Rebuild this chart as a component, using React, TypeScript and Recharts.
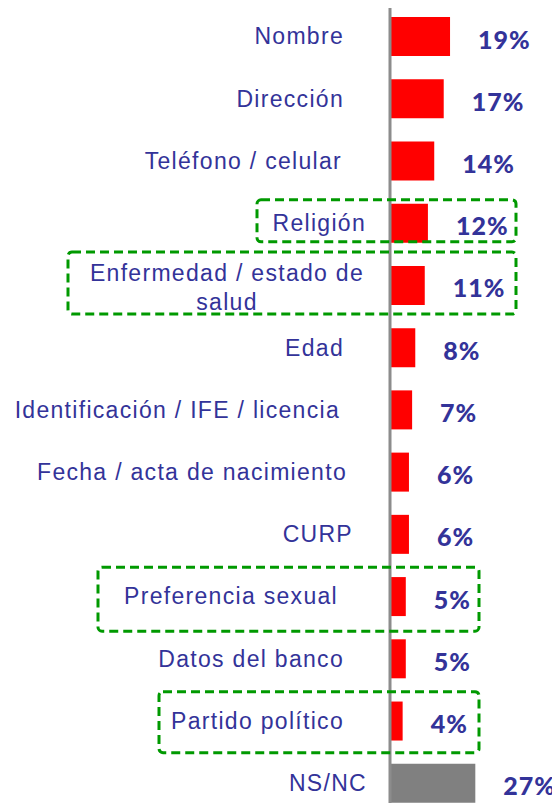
import React from 'react';
import { BarChart, Bar, XAxis, YAxis, Cell, LabelList } from 'recharts';

const categories = [
  'Nombre',
  'Dirección',
  'Teléfono / celular',
  'Religión',
  'Enfermedad / estado de salud',
  'Edad',
  'Identificación / IFE / licencia',
  'Fecha / acta de nacimiento',
  'CURP',
  'Preferencia sexual',
  'Datos del banco',
  'Partido político',
  'NS/NC',
];
const values = [19, 17, 14, 12, 11, 8, 7, 6, 6, 5, 5, 4, 27];
const highlighted = ['Religión', 'Enfermedad / estado de salud', 'Preferencia sexual', 'Partido político'];
const wrappedLabels: Record<string, string[]> = {
  'Enfermedad / estado de salud': ['Enfermedad / estado de', 'salud'],
};

const data = categories.map((name, i) => ({ name, value: values[i] }));

const BLUE = '#333399';
const LABEL_RIGHT = 344;

// small nudges so labels sit where the original text boxes were
const labelShift: Record<string, number> = {
  'Religión': 22,
  'NS/NC': 23,
  'CURP': 9,
  'Fecha / acta de nacimiento': 3,
  'Preferencia sexual': -6,
  'Identificación / IFE / licencia': -4,
  'Teléfono / celular': -2,
};

// dashed highlight boxes, relative to the row centre
const boxStyle: Record<string, { x1: number; x2: number; top: number; bottom: number }> = {
  'Religión': { x1: 257, x2: 516, top: -23, bottom: 19 },
  'Enfermedad / estado de salud': { x1: 68, x2: 516, top: -33, bottom: 29 },
  'Preferencia sexual': { x1: 98, x2: 479, top: -29, bottom: 35 },
  'Partido político': { x1: 159, x2: 479, top: -29, bottom: 32 },
};

const CategoryTick = (props: any) => {
  const { y, payload } = props;
  const name: string = payload.value;
  const lines = wrappedLabels[name];
  const box = highlighted.includes(name) ? boxStyle[name] : null;
  const textStyle = {
    fontFamily: '"Liberation Sans", Arial, sans-serif',
    fontSize: 23,
    letterSpacing: 1.3,
    fill: BLUE,
  };
  return (
    <g>
      {lines ? (
        <text x={227} y={y} textAnchor="middle" style={textStyle}>
          <tspan x={227} dy={-4}>{lines[0]}</tspan>
          <tspan x={227} dy={29}>{lines[1]}</tspan>
        </text>
      ) : (
        <text x={LABEL_RIGHT + (labelShift[name] ?? 0)} y={y} dy="0.36em" textAnchor="end" style={textStyle}>
          {name}
        </text>
      )}
      {box && (
        <rect
          x={box.x1}
          y={y + box.top}
          width={box.x2 - box.x1}
          height={box.bottom - box.top}
          rx={4}
          fill="none"
          stroke="#009900"
          strokeWidth={3}
          strokeDasharray="9 5"
        />
      )}
    </g>
  );
};

const ValueLabel = (props: any) => {
  const { x, y, width, height, value } = props;
  return (
    <text
      x={x + width + 28}
      y={y + height / 2}
      dy="0.36em"
      transform="translate(0,3)"
      textAnchor="start"
      style={{ fontFamily: 'Lato, "Open Sans", sans-serif', fontWeight: 900, fontSize: 25, letterSpacing: 1, fill: BLUE }}
    >
      {`${value}%`}
    </text>
  );
};

const App = () => {
  return (
    <div style={{ width: 560, height: 811, overflow: 'hidden', margin: -8, background: '#fff' }}>
      <BarChart
        width={560}
        height={814}
        data={data}
        layout="vertical"
        margin={{ top: 5, right: 12, left: 0, bottom: 0 }}
      >
        <XAxis type="number" domain={[0, 50]} hide />
        <Bar dataKey="value" barSize={39} isAnimationActive={false}>
          {data.map((d) => (
            <Cell key={d.name} fill={d.name === 'NS/NC' ? '#808080' : '#ff0000'} />
          ))}
          <LabelList dataKey="value" content={ValueLabel} />
        </Bar>
        <YAxis
          type="category"
          dataKey="name"
          width={390}
          interval={0}
          tickLine={false}
          axisLine={{ stroke: '#8c8c8c', strokeWidth: 3 }}
          tick={(p: any) => <CategoryTick {...p} />}
        />
      </BarChart>
    </div>
  );
};

export default App;
